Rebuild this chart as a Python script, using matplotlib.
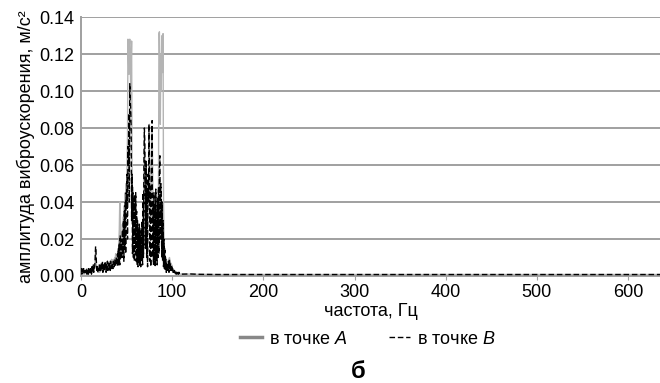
import numpy as np
import matplotlib
matplotlib.use("Agg")
from matplotlib import pyplot as plt
from matplotlib.lines import Line2D

plt.rcParams['font.family'] = ['Liberation Sans', 'DejaVu Sans']
plt.rcParams['mathtext.fontset'] = 'custom'
plt.rcParams['mathtext.it'] = 'Liberation Sans:italic'
plt.rcParams['mathtext.rm'] = 'Liberation Sans'

# frequency grid for the low band, 0 .. 110 Hz, step 0.5 Hz
freq_low = np.arange(0, 110.5, 0.5)

# amplitude at point A (grey solid), in 1e-3 m/s^2
amp_a = np.array([
    3, 1, 4, 2, 3, 1, 2, 4, 1, 3,
    2, 3, 1, 4, 2, 2, 3, 1, 3, 2,
    3, 2, 4, 2, 3, 5, 2, 4, 3, 5,
    4, 8, 14, 10, 5, 4, 3, 5, 2, 4,
    5, 2, 6, 3, 4, 7, 3, 5, 4, 6,
    3, 6, 4, 7, 3, 5, 7, 3, 6, 4,
    6, 4, 7, 5, 8, 4, 6, 9, 5, 7,
    5, 9, 7, 6, 10, 8, 12, 7, 9, 11,
    10, 14, 12, 18, 25, 40, 39, 18, 15, 22,
    20, 28, 18, 32, 25, 38, 30, 45, 36, 50,
    45, 60, 75, 128, 120, 109, 125, 128, 118, 100,
    115, 127, 60, 40, 48, 32, 40, 28, 42, 30,
    40, 22, 32, 18, 28, 14, 24, 20, 26, 16,
    20, 12, 24, 18, 28, 22, 40, 32, 55, 75,
    68, 45, 35, 58, 28, 42, 30, 52, 38, 78,
    82, 40, 45, 30, 48, 66, 80, 62, 38, 28,
    42, 28, 35, 22, 45, 32, 38, 25, 40, 30,
    50, 131, 132, 110, 82, 120, 100, 125, 130, 110,
    131, 40, 22, 12, 15, 8, 10, 6, 8, 5,
    7, 4, 9, 6, 10, 8, 5, 7, 4, 6,
    4, 3, 3, 2, 3, 2, 2, 1, 2, 1,
    1, 2, 1, 1, 2, 1, 1, 1, 1, 1,
    1]) / 1000

# amplitude at point B (black dashed), in 1e-3 m/s^2
amp_b = np.array([
    2, 4, 1, 3, 2, 4, 1, 3, 2, 1,
    3, 2, 4, 1, 2, 3, 1, 4, 2, 3,
    2, 4, 3, 1, 5, 2, 3, 6, 2, 4,
    5, 9, 16, 12, 6, 3, 5, 2, 4, 3,
    6, 3, 5, 2, 7, 4, 3, 8, 2, 5,
    4, 7, 3, 8, 5, 2, 6, 4, 8, 3,
    5, 7, 4, 6, 3, 8, 5, 4, 7, 6,
    4, 8, 6, 5, 9, 7, 5, 10, 8, 6,
    12, 5, 15, 8, 18, 6, 22, 9, 13, 20,
    10, 25, 12, 30, 8, 35, 15, 40, 12, 45,
    38, 55, 20, 70, 60, 88, 40, 104, 95, 90,
    80, 30, 55, 12, 45, 10, 42, 8, 44, 15,
    45, 8, 35, 6, 30, 5, 25, 7, 28, 5,
    22, 5, 26, 8, 30, 6, 45, 10, 60, 80,
    72, 15, 38, 62, 10, 45, 5, 55, 40, 82,
    60, 8, 48, 5, 50, 70, 84, 10, 40, 6,
    45, 6, 38, 5, 47, 8, 35, 6, 42, 10,
    48, 12, 58, 65, 20, 50, 45, 10, 40, 8,
    30, 5, 20, 4, 14, 3, 9, 2, 7, 3,
    6, 3, 8, 2, 9, 4, 7, 2, 3, 5,
    3, 4, 2, 3, 2, 3, 1, 2, 2, 1,
    2, 1, 2, 1, 1, 2, 1, 1, 1, 1,
    1]) / 1000

# high band tail (flat, near zero)
freq_tail = [120, 130, 150, 640]
tail_a = [0.0010, 0.0009, 0.0008, 0.0008]
tail_b = [0.0011, 0.0009, 0.0008, 0.0008]

freq = np.concatenate([freq_low, freq_tail])
series_a = np.concatenate([amp_a, tail_a])
series_b = np.concatenate([amp_b, tail_b])

xticks = [0, 100, 200, 300, 400, 500, 600]
yticks = [0.00, 0.02, 0.04, 0.06, 0.08, 0.10, 0.12, 0.14]

fig = plt.figure(figsize=(6.6, 3.83), dpi=100)
ax = fig.add_axes([81/660, 1 - 276/383, 1 - 81/660, 259/383])

ax.plot(freq, series_a, color='#b4b4b4', lw=1.0, zorder=2)
ax.plot(freq, series_b, color='black', lw=1.0, ls=(0, (4, 2)), zorder=3)

ax.set_xlim(0, 635)
ax.set_ylim(0, 0.14)
ax.set_xticks(xticks)
ax.set_yticks(yticks)
ax.set_yticklabels(['%.2f' % v for v in yticks])
ax.grid(axis='y', color='#a0a0a0', lw=1.4, zorder=1)
ax.set_axisbelow(True)
for s in ['top', 'right']:
    ax.spines[s].set_visible(False)
ax.spines['left'].set_color('#a0a0a0')
ax.spines['left'].set_linewidth(1.4)
ax.spines['bottom'].set_color('#a0a0a0')
ax.spines['bottom'].set_linewidth(1.4)
ax.tick_params(axis='y', length=0, pad=5, labelsize=13)
ax.tick_params(axis='x', length=3, color='#a0a0a0', pad=2.5, labelsize=13)

ax.set_ylabel('амплитуда виброускорения, м/с²', fontsize=13, labelpad=3)
ax.set_xlabel('частота, Гц', fontsize=13, labelpad=2)

handles = [Line2D([], [], color='#888888', lw=2.5),
           Line2D([], [], color='black', lw=1.0, ls=(0, (4, 2)))]
fig.legend(handles, ['в точке $\\mathit{A}$', 'в точке $\\mathit{B}$'],
           loc='center', bbox_to_anchor=(368/660, 1 - 339/383), ncol=2,
           frameon=False, fontsize=13, handlelength=1.2, handletextpad=0.4,
           columnspacing=2.3)

fig.text(358/660, 1 - 371/383, 'б', fontsize=17, fontweight='bold',
         ha='center', va='center')

fig.savefig('out.png', dpi=100)
